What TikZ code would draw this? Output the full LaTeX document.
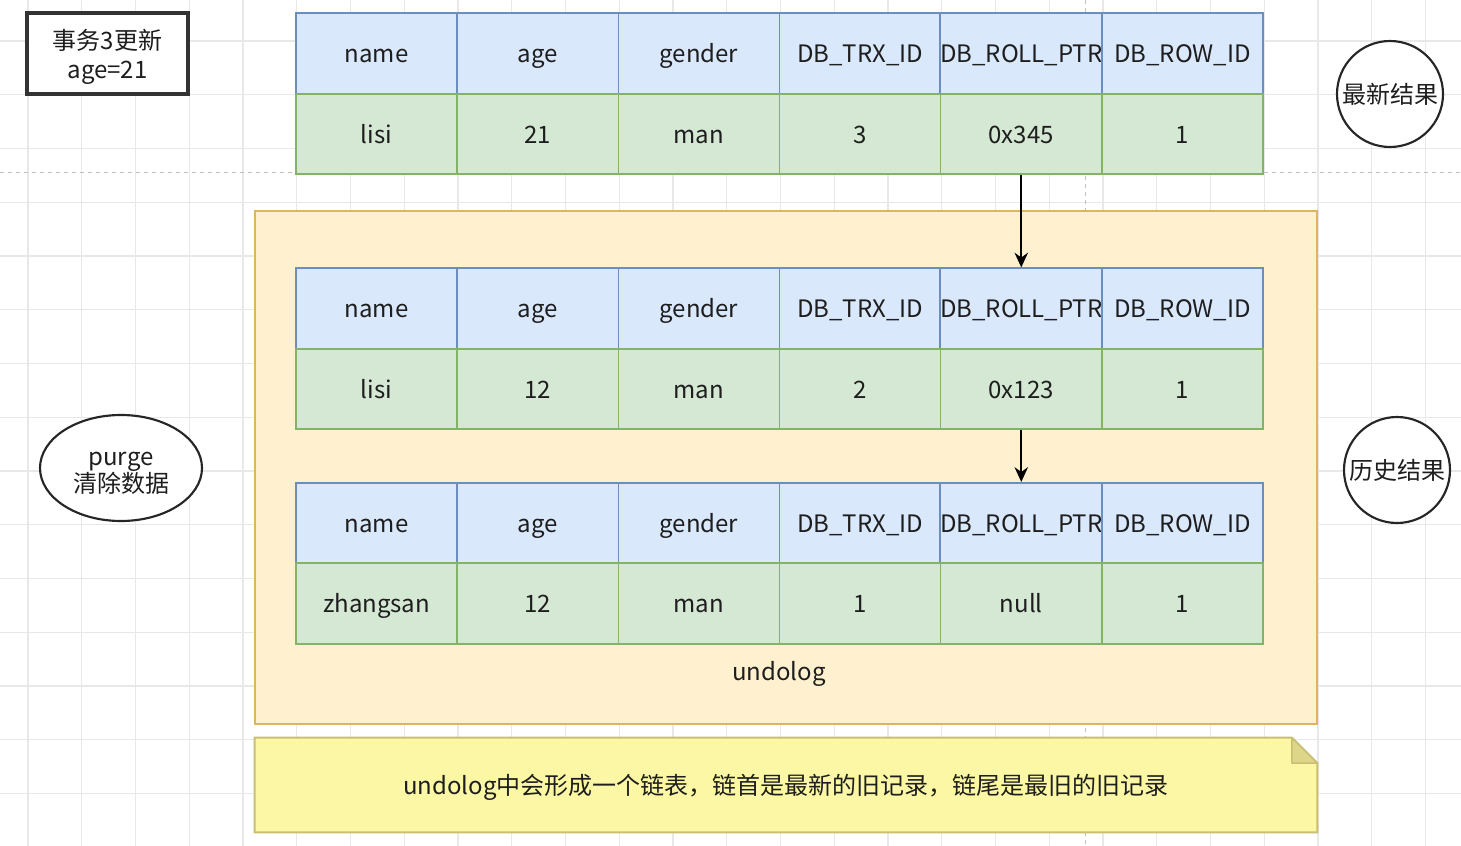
\documentclass[tikz,border=0pt]{standalone}
\usepackage{fontspec}
\setmainfont{Noto Sans CJK SC}
\usetikzlibrary{shapes.geometric,arrows.meta}
\definecolor{hdrfill}{HTML}{DAE8FC}
\definecolor{hdrline}{HTML}{6C8EBF}
\definecolor{datfill}{HTML}{D5E8D4}
\definecolor{datline}{HTML}{82B366}
\definecolor{boxfill}{HTML}{FFF0CF}
\definecolor{boxline}{HTML}{DDB560}
\definecolor{notefill}{HTML}{FCF7A5}
\definecolor{noteline}{HTML}{C9BF74}
\definecolor{txt}{HTML}{1E1E1E}
\definecolor{gridc}{HTML}{E8E8E8}
\tikzset{
  fnt/.style={text=txt, font=\fontsize{18}{20}\selectfont},
  lbl/.style={fnt, inner sep=0pt, text height=18pt, text depth=3.8pt},
  cellbase/.style={rectangle, minimum width=120.9pt, minimum height=60.4pt, inner sep=0pt, line width=1.2pt, fnt, text height=18pt, text depth=3.8pt},
  hdr/.style={cellbase, fill=hdrfill, draw=hdrline},
  dat/.style={cellbase, fill=datfill, draw=datline},
  gridline/.style={gridc, line width=0.8pt},
  pagebreak/.style={black!25, dashed, line width=0.6pt},
  roundlbl/.style={circle, draw=black!85, line width=1.6pt, fill=white, minimum size=79.5pt, inner sep=0pt, fnt},
  arr/.style={line width=1.8pt, -{Stealth[length=11pt,width=10pt]}},
}
\begin{document}
\begin{tikzpicture}[x=0.75pt,y=-0.75pt]
\useasboundingbox (0,0) rectangle (1461,846);
\fill[white] (0,0) rectangle (1461,846);
% grid
\foreach \i in {0,...,26} { \draw[gridline] ({28+\i*53.75},0) -- ({28+\i*53.75},846); }
\foreach \j in {0,...,15} { \draw[gridline] (0,{41+\j*53.75}) -- (1461,{41+\j*53.75}); }
\draw[pagebreak] (0,172) -- (1461,172);
\draw[pagebreak] (1085,0) -- (1085,846);

% update box
\node[rectangle, draw=black!80, line width=2.6pt, fill=white, minimum width=120.75pt, minimum height=60.75pt, inner sep=0pt] (upd) at (107.5,53.5) {};
\node[fnt, align=center, font=\fontsize{18}{21.75}\selectfont] (updtxt) at (107.5,57) {事务3更新\\age=21};

% undolog container
\node[rectangle, draw=boxline, fill=boxfill, line width=1.5pt, minimum width=796.5pt, minimum height=384.75pt, inner sep=0pt] (undo) at (786,467.5) {};
\node[lbl] (undolbl) at (779,671) {undolog};

% tables
\def\colw{161.17}
\foreach \t/\yh/\yd/\a/\b/\c/\d/\e in {1/53.5/134/lisi/21/man/3/0x345, 2/308.5/389/lisi/12/man/2/0x123, 3/523/603.5/zhangsan/12/man/1/null} {
  \foreach \k/\h in {1/name,2/age,3/gender,4/DB\_TRX\_ID,5/DB\_ROLL\_PTR,6/DB\_ROW\_ID} {
    \node[hdr] (t\t h\k) at ({296+(\k-0.5)*\colw},\yh) {\h};
  }
  \node[dat] (t\t d1) at ({296+0.5*\colw},\yd) {\a};
  \node[dat] (t\t d2) at ({296+1.5*\colw},\yd) {\b};
  \node[dat] (t\t d3) at ({296+2.5*\colw},\yd) {\c};
  \node[dat] (t\t d4) at ({296+3.5*\colw},\yd) {\d};
  \node[dat] (t\t d5) at ({296+4.5*\colw},\yd) {\e};
  \node[dat] (t\t d6) at ({296+5.5*\colw},\yd) {1};
}

% arrows
\draw[arr] (t1d5.south) -- (t2h5.north);
\draw[arr] (t2d5.south) -- (t3h5.north);

% round labels
\node[roundlbl] (newest) at (1390,94) {最新结果};
\node[roundlbl] (history) at (1397,470) {历史结果};
\node[ellipse, draw=black!85, line width=1.6pt, fill=white, minimum width=121.5pt, minimum height=79.5pt, inner sep=0pt] (purge) at (121,468) {};
\node[fnt, align=center, font=\fontsize{18}{20.25}\selectfont] (purgetxt) at (121,473) {purge\\清除数据};

% note
\node[rectangle, minimum width=796.5pt, minimum height=70.5pt, inner sep=0pt] (note) at (786,785) {};
\draw[noteline, fill=notefill, line width=1.5pt] (note.south west) -- (note.north west) -- ([xshift=-19pt]note.north east) -- ([yshift=-19pt]note.north east) -- (note.south east) -- cycle;
\draw[noteline, fill=noteline!60!notefill, line width=1.2pt, line join=round] ([xshift=-19pt]note.north east) -- ([xshift=-19pt,yshift=-19pt]note.north east) -- ([yshift=-19pt]note.north east) -- cycle;
\node[lbl] (notetxt) at (786,785.5) {undolog中会形成一个链表，链首是最新的旧记录，链尾是最旧的旧记录};
\end{tikzpicture}
\end{document}
